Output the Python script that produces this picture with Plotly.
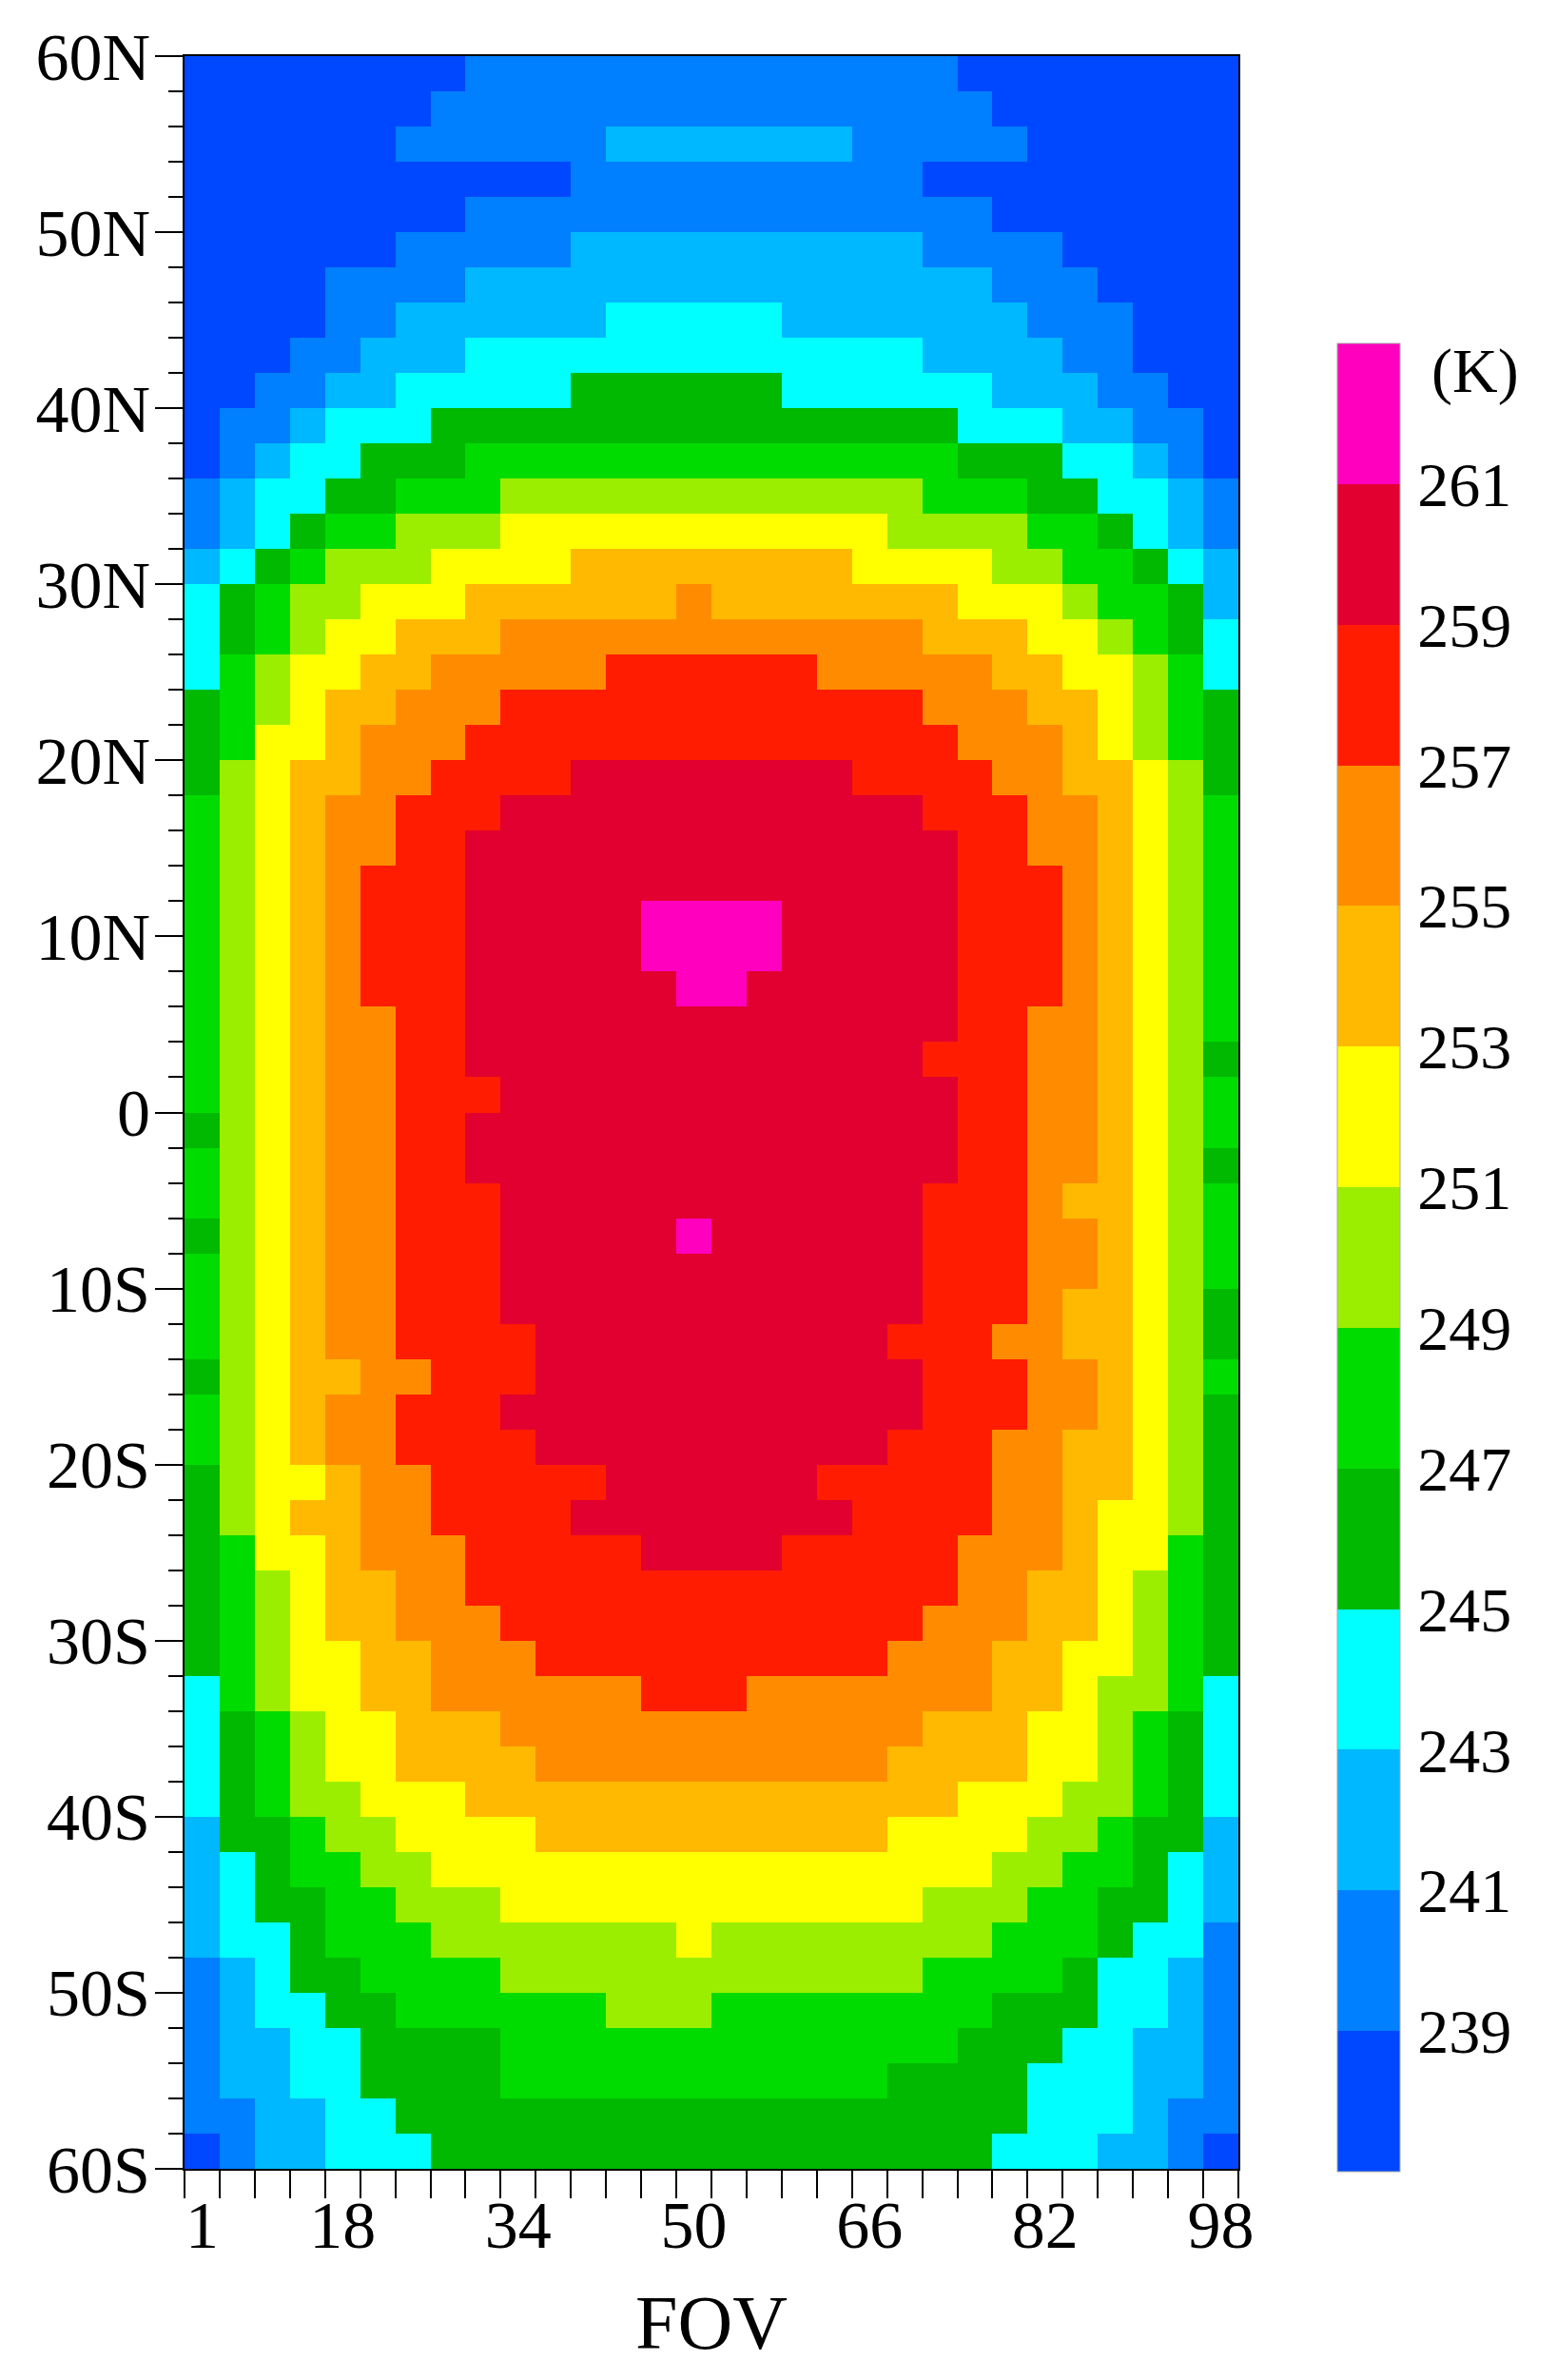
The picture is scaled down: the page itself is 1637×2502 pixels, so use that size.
import plotly.graph_objects as go

# Each latitude row, top (60N side) to bottom (60S side): "level:end_column" runs
ROW_RUNS = [
"0:8 1:22 0:30",
"0:7 1:23 0:30",
"0:6 1:12 2:19 1:24 0:30",
"0:11 1:21 0:30",
"0:8 1:23 0:30",
"0:6 1:11 2:21 1:25 0:30",
"0:4 1:8 2:23 1:26 0:30",
"0:4 1:6 2:12 3:17 2:24 1:27 0:30",
"0:3 1:5 2:8 3:21 2:25 1:27 0:30",
"0:2 1:4 2:6 3:11 4:17 3:23 2:26 1:28 0:30",
"0:1 1:3 2:4 3:7 4:22 3:25 2:27 1:29 0:30",
"0:1 1:2 2:3 3:5 4:8 5:22 4:25 3:27 2:28 1:29 0:30",
"1:1 2:2 3:4 4:6 5:9 6:21 5:24 4:26 3:28 2:29 1:30",
"1:1 2:2 3:3 4:4 5:6 6:9 7:20 6:24 5:26 4:27 3:28 2:29 1:30",
"2:1 3:2 4:3 5:4 6:7 7:11 8:19 7:23 6:25 5:27 4:28 3:29 2:30",
"3:1 4:2 5:3 6:5 7:8 8:14 9:15 8:22 7:25 6:26 5:28 4:29 2:30",
"3:1 4:2 5:3 6:4 7:6 8:9 9:21 8:24 7:26 6:27 5:28 4:29 3:30",
"3:1 5:2 6:3 7:5 8:7 9:12 a:18 9:23 8:25 7:27 6:28 5:29 3:30",
"4:1 5:2 6:3 7:4 8:6 9:9 a:21 9:24 8:26 7:27 6:28 5:29 4:30",
"4:1 5:2 7:4 8:5 9:8 a:22 9:25 8:26 7:27 6:28 5:29 4:30",
"4:1 6:2 7:3 8:5 9:7 a:11 b:19 a:23 9:25 8:27 7:28 6:29 4:30",
"5:1 6:2 7:3 8:4 9:6 a:9 b:21 a:24 9:26 8:27 7:28 6:29 5:30",
"5:1 6:2 7:3 8:4 9:6 a:8 b:22 a:24 9:26 8:27 7:28 6:29 5:30",
"5:1 6:2 7:3 8:4 9:5 a:8 b:22 a:25 9:26 8:27 7:28 6:29 5:30",
"5:1 6:2 7:3 8:4 9:5 a:8 b:13 c:17 b:22 a:25 9:26 8:27 7:28 6:29 5:30",
"5:1 6:2 7:3 8:4 9:5 a:8 b:13 c:17 b:22 a:25 9:26 8:27 7:28 6:29 5:30",
"5:1 6:2 7:3 8:4 9:5 a:8 b:14 c:16 b:22 a:25 9:26 8:27 7:28 6:29 5:30",
"5:1 6:2 7:3 8:4 9:6 a:8 b:22 a:24 9:26 8:27 7:28 6:29 5:30",
"5:1 6:2 7:3 8:4 9:6 a:8 b:21 a:24 9:26 8:27 7:28 6:29 4:30",
"5:1 6:2 7:3 8:4 9:6 a:9 b:22 a:24 9:26 8:27 7:28 6:29 5:30",
"4:1 6:2 7:3 8:4 9:6 a:8 b:22 a:24 9:26 8:27 7:28 6:29 5:30",
"5:1 6:2 7:3 8:4 9:6 a:8 b:22 a:24 9:26 8:27 7:28 6:29 4:30",
"5:1 6:2 7:3 8:4 9:6 a:9 b:21 a:24 9:25 8:27 7:28 6:29 5:30",
"4:1 6:2 7:3 8:4 9:6 a:9 b:14 c:15 b:21 a:24 9:26 8:27 7:28 6:29 5:30",
"5:1 6:2 7:3 8:4 9:6 a:9 b:21 a:24 9:26 8:27 7:28 6:29 5:30",
"5:1 6:2 7:3 8:4 9:6 a:9 b:21 a:24 9:25 8:27 7:28 6:29 4:30",
"5:1 6:2 7:3 8:4 9:6 a:10 b:20 a:23 9:25 8:27 7:28 6:29 4:30",
"4:1 6:2 7:3 8:5 9:7 a:10 b:21 a:24 9:26 8:27 7:28 6:29 5:30",
"5:1 6:2 7:3 8:4 9:6 a:9 b:21 a:24 9:26 8:27 7:28 6:29 4:30",
"5:1 6:2 7:3 8:4 9:6 a:10 b:20 a:23 9:25 8:27 7:28 6:29 4:30",
"4:1 6:2 7:4 8:5 9:7 a:12 b:18 a:23 9:25 8:27 7:28 6:29 4:30",
"4:1 6:2 7:3 8:5 9:7 a:11 b:19 a:23 9:25 8:26 7:28 6:29 4:30",
"4:1 5:2 7:4 8:5 9:8 a:13 b:17 a:22 9:25 8:26 7:28 5:29 4:30",
"4:1 5:2 6:3 7:4 8:6 9:8 a:22 9:24 8:26 7:27 6:28 5:29 4:30",
"4:1 5:2 6:3 7:4 8:6 9:9 a:21 9:24 8:26 7:27 6:28 5:29 4:30",
"4:1 5:2 6:3 7:5 8:7 9:10 a:20 9:23 8:25 7:27 6:28 5:29 4:30",
"3:1 5:2 6:3 7:5 8:7 9:13 a:16 9:23 8:25 7:26 6:28 5:29 3:30",
"3:1 4:2 5:3 6:4 7:6 8:9 9:21 8:24 7:26 6:27 5:28 4:29 3:30",
"3:1 4:2 5:3 6:4 7:6 8:10 9:20 8:24 7:26 6:27 5:28 4:29 3:30",
"3:1 4:2 5:3 6:5 7:8 8:22 7:25 6:27 5:28 4:29 3:30",
"2:1 4:3 5:4 6:6 7:10 8:20 7:24 6:26 5:27 4:29 2:30",
"2:1 3:2 4:3 5:5 6:7 7:23 6:25 5:27 4:28 3:29 2:30",
"2:1 3:2 4:4 5:6 6:9 7:21 6:24 5:26 4:28 3:29 2:30",
"2:1 3:3 4:4 5:7 6:14 7:15 6:23 5:26 4:27 3:29 1:30",
"1:1 2:2 3:3 4:5 5:9 6:21 5:25 4:26 3:28 2:29 1:30",
"1:1 2:2 3:4 4:6 5:12 6:15 5:23 4:26 3:28 2:29 1:30",
"1:1 2:3 3:5 4:9 5:22 4:25 3:27 2:29 1:30",
"1:1 2:3 3:5 4:9 5:20 4:24 3:27 2:29 1:30",
"1:2 2:4 3:6 4:24 3:27 2:28 1:30",
"0:1 1:2 2:4 3:7 4:23 3:26 2:28 1:29 0:30",
]

LEVEL_COLORS = ["#0048ff", "#007fff", "#00b8ff", "#00ffff", "#00b900", "#00dc00", "#9cee00",
                "#ffff00", "#ffb900", "#ff8c00", "#ff1c00", "#e1002f", "#ff00be"]
LEVEL_TEMPS = [238, 240, 242, 244, 246, 248, 250, 252, 254, 256, 258, 260, 262]

FOV_COLUMNS = list(range(30))
FOV_TICK_COLS = [0, 4, 9, 14, 19, 24, 29]
FOV_LABELS = ["1", "18", "34", "50", "66", "82", "98"]
LAT_CENTERS = list(range(59, -61, -2))
LAT_TICKS = [60, 50, 40, 30, 20, 10, 0, -10, -20, -30, -40, -50, -60]
LAT_LABELS = ["60N", "50N", "40N", "30N", "20N", "10N", "0", "10S", "20S", "30S", "40S", "50S", "60S"]
CBAR_TICKS = [239, 241, 243, 245, 247, 249, 251, 253, 255, 257, 259, 261]

z = []
for row in ROW_RUNS:
    cells = []
    for run in row.split():
        lev, end = run.split(":")
        cells += [LEVEL_TEMPS[int(lev, 16)]] * (int(end) - len(cells))
    assert len(cells) == 30
    z.append(cells)

zmin, zmax = 237, 263
n = len(LEVEL_COLORS)
scale = []
for i, c in enumerate(LEVEL_COLORS):
    scale += [[i / n, c], [(i + 1) / n, c]]

FONT = "Liberation Serif"
W, H = 1637, 2502
L, R, T, B = 194, 335, 59, 222
PW, PH = W - L - R, H - T - B

fig = go.Figure(go.Heatmap(
    z=z, x=FOV_COLUMNS, y=LAT_CENTERS, colorscale=scale, zmin=zmin, zmax=zmax,
    colorbar=dict(
        x=(1406 - L) / PW, xanchor="left", y=1 - (361 - T) / PH, yanchor="top",
        thicknessmode="pixels", thickness=66, lenmode="pixels", len=1922,
        xpad=0, ypad=0, outlinewidth=1, outlinecolor="#aaaaaa",
        tickmode="array", tickvals=CBAR_TICKS, ticktext=[str(t) for t in CBAR_TICKS],
        ticks="outside", ticklen=5, tickcolor="rgba(0,0,0,0)",
        tickfont=dict(family=FONT, size=66, color="black"),
    ),
))

edges = [c - 0.5 for c in FOV_COLUMNS] + [29.5]
fig.update_xaxes(
    range=[-0.5, 29.5], showgrid=False, zeroline=False,
    showline=True, mirror=True, linecolor="black", linewidth=2,
    tickmode="array", tickvals=FOV_TICK_COLS, ticktext=FOV_LABELS,
    ticks="outside", ticklen=29, tickcolor="rgba(0,0,0,0)", ticklabelstandoff=-32,
    tickfont=dict(family=FONT, size=70, color="black"),
    minor=dict(tickmode="array", tickvals=edges, ticks="outside", ticklen=29, tickwidth=2, tickcolor="black", showgrid=False),
    title=dict(text="FOV", font=dict(family=FONT, size=80, color="black"), standoff=36),
)
fig.update_yaxes(
    range=[-60, 60], showgrid=False, zeroline=False,
    showline=True, mirror=True, linecolor="black", linewidth=2,
    tickmode="array", tickvals=LAT_TICKS, ticktext=LAT_LABELS,
    ticks="outside", ticklen=29, tickwidth=2, tickcolor="black", ticklabelstandoff=-9,
    tickfont=dict(family=FONT, size=70, color="black"),
    minor=dict(tickmode="array", tickvals=list(range(-60, 61, 2)), ticks="outside", ticklen=15, tickwidth=2, tickcolor="black", showgrid=False),
)
fig.update_layout(
    width=W, height=H, autosize=False,
    margin=dict(l=L, r=R, t=T, b=B, autoexpand=False),
    paper_bgcolor="white", plot_bgcolor="white",
    annotations=[dict(text="(K)", xref="paper", yref="paper", x=(1551 - L) / PW, y=1 - (390 - T) / PH,
                      xanchor="center", yanchor="middle", showarrow=False,
                      font=dict(family=FONT, size=66, color="black"))],
)
fig.write_html("out.html", config={"displayModeBar": False},
               post_script="document.body.style.margin='0';document.body.style.overflow='hidden';")
